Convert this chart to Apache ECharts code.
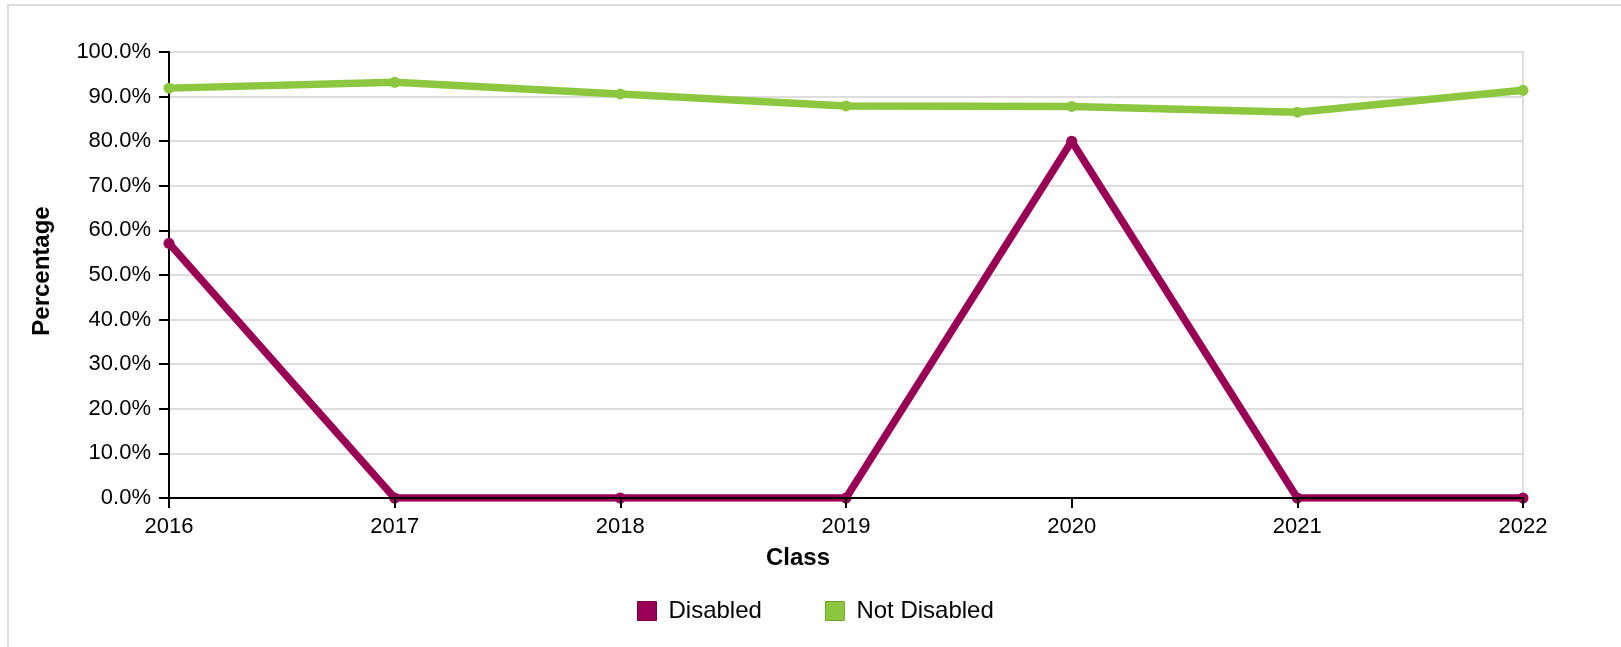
<!DOCTYPE html>
<html>
<head>
<meta charset="utf-8">
<script src="https://cdn.jsdelivr.net/npm/echarts@6/dist/echarts.min.js"></script>
<style>
html,body{margin:0;padding:0;background:#fff;}
#chart{width:1621px;height:647px;}
</style>
</head>
<body>
<div id="chart"></div>
<script>
const categories = ['2016','2017','2018','2019','2020','2021','2022'];
const disabled = [57.1, 0, 0, 0, 80.0, 0, 0];
const notDisabled = [91.9, 93.2, 90.6, 87.9, 87.8, 86.5, 91.4];
const seriesNames = ['Disabled', 'Not Disabled'];
const colors = ['#990055', '#8dc63f'];
const xTitle = 'Class';
const yTitle = 'Percentage';

const FONT = '"Liberation Sans", Arial, Helvetica, sans-serif';
const chart = echarts.init(document.getElementById('chart'), null, {renderer: 'canvas'});

chart.setOption({
  animation: false,
  backgroundColor: '#fff',
  textStyle: {fontFamily: FONT},
  grid: {
    left: 169, right: 98, top: 52, bottom: 149,
    show: true, borderColor: '#dddddd', borderWidth: 2, backgroundColor: 'transparent'
  },
  legend: {
    data: seriesNames.map((n, i) => ({
      name: n,
      icon: 'rect',
      itemStyle: {color: colors[i], borderColor: i === 0 ? '#7a0044' : '#70a030', borderWidth: 1}
    })),
    left: 632, top: 594,
    itemWidth: 19, itemHeight: 19, itemGap: 63,
    textStyle: {fontSize: 24, color: '#000', fontFamily: FONT, padding: [0, 0, 0, 7]}
  },
  xAxis: {
    type: 'category',
    data: categories,
    boundaryGap: false,
    z: 5,
    axisLine: {show: true, lineStyle: {color: '#000', width: 2}},
    axisTick: {show: true, length: 10, alignWithLabel: true, lineStyle: {color: '#000', width: 2}},
    axisLabel: {fontSize: 22, color: '#000', margin: 18, fontFamily: FONT},
    splitLine: {show: false}
  },
  yAxis: {
    type: 'value',
    min: 0, max: 100, interval: 10,
    axisLine: {show: true, lineStyle: {color: '#000', width: 2}},
    axisTick: {show: true, length: 10, lineStyle: {color: '#000', width: 2}},
    axisLabel: {fontSize: 22, color: '#000', margin: 18, fontFamily: FONT,
      formatter: v => v.toFixed(1) + '%'},
    splitLine: {show: true, lineStyle: {color: '#dddddd', width: 2}}
  },
  series: [
    {
      name: seriesNames[0], type: 'line', data: disabled,
      color: colors[0],
      symbol: 'circle', symbolSize: 11, showAllSymbol: true,
      lineStyle: {width: 7.5, color: colors[0]},
      itemStyle: {color: colors[0]}
    },
    {
      name: seriesNames[1], type: 'line', data: notDisabled,
      color: colors[1],
      symbol: 'circle', symbolSize: 11, showAllSymbol: true,
      lineStyle: {width: 7.5, color: colors[1]},
      itemStyle: {color: colors[1]}
    }
  ],
  graphic: [
    {type: 'rect', silent: true, z: -10,
      shape: {x: 8, y: 5, width: 1800, height: 800},
      style: {fill: null, stroke: '#dddddd', lineWidth: 2}},
    {type: 'text', x: 798, y: 558,
      style: {text: xTitle, font: 'bold 24px ' + FONT, fill: '#000', textAlign: 'center', textVerticalAlign: 'middle'}},
    {type: 'text', x: 42.5, y: 271, rotation: Math.PI / 2,
      style: {text: yTitle, font: 'bold 24px ' + FONT, fill: '#000', textAlign: 'center', textVerticalAlign: 'middle'}}
  ]
});
</script>
</body>
</html>
